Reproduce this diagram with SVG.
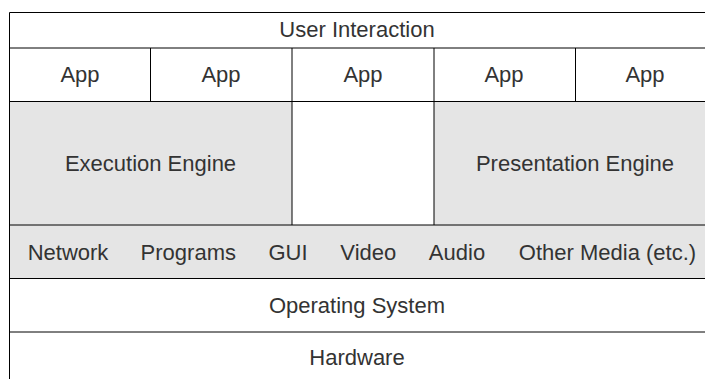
<svg xmlns="http://www.w3.org/2000/svg" width="705" height="379" viewBox="0 0 705 379">
<style>
text{font-family:"Liberation Sans",Arial,sans-serif;font-size:22px;fill:#333;text-anchor:middle}
.ln{stroke:#000;stroke-width:1;fill:none}
.gr{fill:#e5e5e5;stroke:none}
</style>
<rect width="705" height="379" fill="#fff"/>
<g id="fills">
<rect class="gr" x="9.5" y="101.5" width="282.5" height="123.5"/>
<rect class="gr" x="434" y="101.5" width="282" height="123.5"/>
<rect class="gr" x="9.5" y="225" width="707" height="53.5"/>
</g>
<g id="connectors">
<path class="ln" d="M9.5 12.5H716M9.5 48H716M9.5 101.5H716M9.5 225H716M9.5 278.5H716M9.5 332H716M9.5 12.5V379M150.5 48V101.5M575.5 48V101.5M292 48V225M434 48V225"/>
</g>
<g id="user-interaction"><text x="357" y="37">User Interaction</text></g>
<g id="app1"><text x="80" y="82">App</text></g>
<g id="app2"><text x="221" y="82">App</text></g>
<g id="app3"><text x="363" y="82">App</text></g>
<g id="app4"><text x="504" y="82">App</text></g>
<g id="app5"><text x="645" y="82">App</text></g>
<g id="execution-engine"><text x="150.5" y="171">Execution Engine</text></g>
<g id="presentation-engine"><text x="575" y="171">Presentation Engine</text></g>
<g id="media">
<text x="68" y="259.5">Network</text>
<text x="188.3" y="259.5">Programs</text>
<text x="288" y="259.5">GUI</text>
<text x="368.3" y="259.5">Video</text>
<text x="457" y="259.5">Audio</text>
<text x="607.5" y="259.5">Other Media (etc.)</text>
</g>
<g id="operating-system"><text x="357" y="313">Operating System</text></g>
<g id="hardware"><text x="357" y="365">Hardware</text></g>
</svg>
